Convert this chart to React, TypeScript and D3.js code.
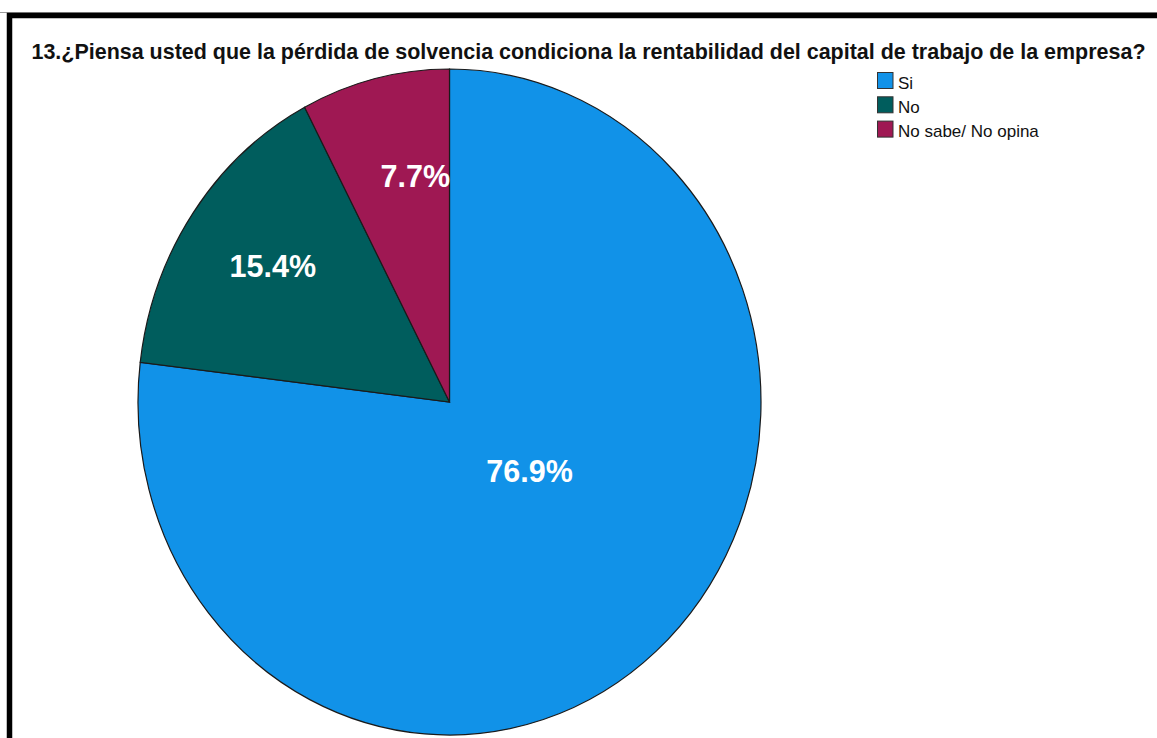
import React from "react";
import * as d3 from "d3";

const categories = ["Si", "No", "No sabe/ No opina"];
const percentages = [76.9, 15.4, 7.7];
const colors = ["#1192e8", "#005d5d", "#9f1853"];
const title =
  "13.¿Piensa usted que la pérdida de solvencia condiciona la rentabilidad del capital de trabajo de la empresa?";

// layout
const W = 1157;
const H = 738;
const cx = 449.5;
const cy = 402;
const rx = 311.5;
const ry = 333;
// label placement: radius fraction and angle shift (degrees) relative to slice mid angle
const labelR = [0.33, 0.698, 0.688];
const labelShift = [-9.6, 1.1, 4.7];

export default function App() {
  const pie = d3
    .pie<number>()
    .sort(null)
    .value((d) => d);
  const arcs = pie(percentages);
  const arc = d3.arc<d3.PieArcDatum<number>>().innerRadius(0).outerRadius(rx);
  const font = "'Liberation Sans', Arial, Helvetica, sans-serif";

  return (
    <svg
      width={W}
      height={H}
      style={{ position: "absolute", left: 0, top: 0, background: "#fff" }}
    >
      <rect x={0} y={0} width={W} height={H} fill="#fff" />
      <line x1={0} x2={W} y1={12.5} y2={12.5} stroke="#9a9a9a" strokeWidth={1} />
      <rect x={9.5} y={15.5} width={W + 50} height={H + 50} fill="none" stroke="#000" strokeWidth={5.5} />
      <text
        x={31.5}
        y={58.5}
        fontFamily={font}
        fontWeight="bold"
        fontSize={21.5}
        textLength={1114}
        lengthAdjust="spacingAndGlyphs"
        fill="#111"
      >
        {title}
      </text>
      <g transform={`translate(${cx},${cy}) scale(1,${ry / rx})`}>
        {arcs.map((a, i) => (
          <path
            key={i}
            d={arc(a) || ""}
            fill={colors[i]}
            stroke="#1a1a1a"
            strokeWidth={1.2}
            vectorEffect="non-scaling-stroke"
          />
        ))}
      </g>
      {arcs.map((a, i) => {
        const mid = (a.startAngle + a.endAngle) / 2 + (labelShift[i] * Math.PI) / 180;
        const x = cx + Math.sin(mid) * rx * labelR[i];
        const y = cy - Math.cos(mid) * ry * labelR[i];
        return (
          <text
            key={i}
            x={x}
            y={y + 11}
            textAnchor="middle"
            fontFamily={font}
            fontWeight="bold"
            fontSize={30.5}
            fill="#fff"
          >
            {`${d3.format(".1f")(percentages[i])}%`}
          </text>
        );
      })}
      <g transform="translate(877,72)">
        {categories.map((c, i) => (
          <g key={c} transform={`translate(0,${i * 24.3})`}>
            <rect x={0.5} y={0.5} width={15.5} height={16} fill={colors[i]} stroke="#333" strokeWidth={1} />
            <text x={21} y={16.5} fontFamily={font} fontSize={17} fill="#111">
              {c}
            </text>
          </g>
        ))}
      </g>
    </svg>
  );
}
